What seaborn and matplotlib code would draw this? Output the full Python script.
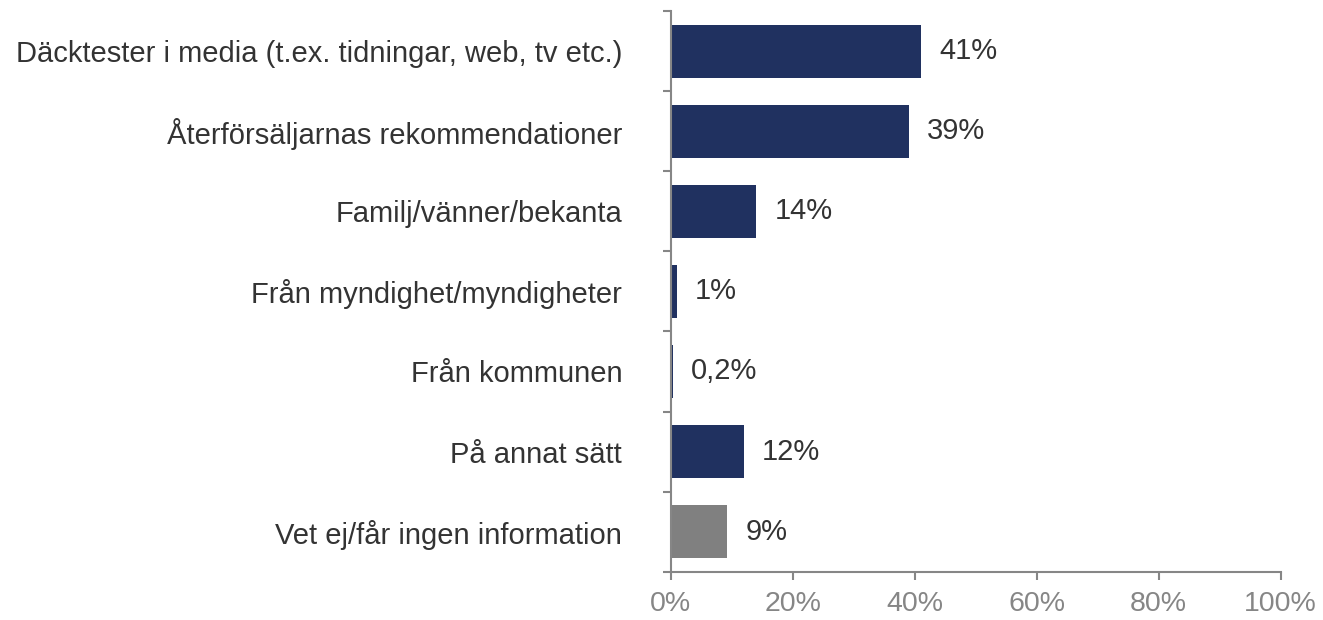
import matplotlib

matplotlib.use("Agg")

import matplotlib.pyplot as plt
import numpy as np
import pandas as pd
import seaborn as sns
from matplotlib.ticker import FixedLocator, PercentFormatter

categories = [
    "Däcktester i media (t.ex. tidningar, web, tv etc.)",
    "Återförsäljarnas rekommendationer",
    "Familj/vänner/bekanta",
    "Från myndighet/myndigheter",
    "Från kommunen",
    "På annat sätt",
    "Vet ej/får ingen information",
]
values = [41, 39, 14, 1, 0.3, 12, 9.3]
labels = ["41%", "39%", "14%", "1%", "0,2%", "12%", "9%"]
groups = ["main", "main", "main", "main", "main", "main", "unknown"]

NAVY = "#203160"
GRAY = "#808080"
AXIS = "#868686"
TEXT = "#333333"

sns.set_style("white")
plt.rcParams["font.family"] = ["Liberation Sans", "DejaVu Sans"]

df = pd.DataFrame({"category": categories, "value": values, "group": groups})

fig = plt.figure(figsize=(13.23, 6.2), dpi=100)
ax = fig.add_axes([0.507, 0.078, 0.461, 0.904])
sns.barplot(
    data=df, x="value", y="category", hue="group",
    palette={"main": NAVY, "unknown": GRAY},
    width=0.66, dodge=False, legend=False, saturation=1, linewidth=0, ax=ax,
)

# value labels just right of each bar
for i, (v, lab) in enumerate(zip(values, labels)):
    ax.text(v + 3.0, i, lab, va="center", ha="left", fontsize=21, color=TEXT)

ax.set_xlim(0, 100)
ax.set_ylim(len(categories) - 0.5, -0.5)
ax.xaxis.set_major_formatter(PercentFormatter(decimals=0))
ax.set_xticks(np.arange(0, 101, 20))
ax.set_xlabel("")
ax.set_ylabel("")

# tick marks sit between categories, labels at the centres
ax.yaxis.set_minor_locator(FixedLocator(np.arange(-0.5, len(categories), 1.0)))
ax.tick_params(axis="y", which="major", length=0, labelsize=21, labelcolor=TEXT, pad=35)
ax.tick_params(axis="y", which="minor", length=6, width=1.5, color=AXIS, direction="out", left=True)
ax.tick_params(axis="x", which="major", length=6, width=1.5, color=AXIS, direction="out",
               labelsize=20.5, labelcolor=AXIS, bottom=True, pad=8)

for side in ["top", "right"]:
    ax.spines[side].set_visible(False)
for side in ["left", "bottom"]:
    ax.spines[side].set_color(AXIS)
    ax.spines[side].set_linewidth(1.5)

fig.savefig("out.png", dpi=100, facecolor="white")
